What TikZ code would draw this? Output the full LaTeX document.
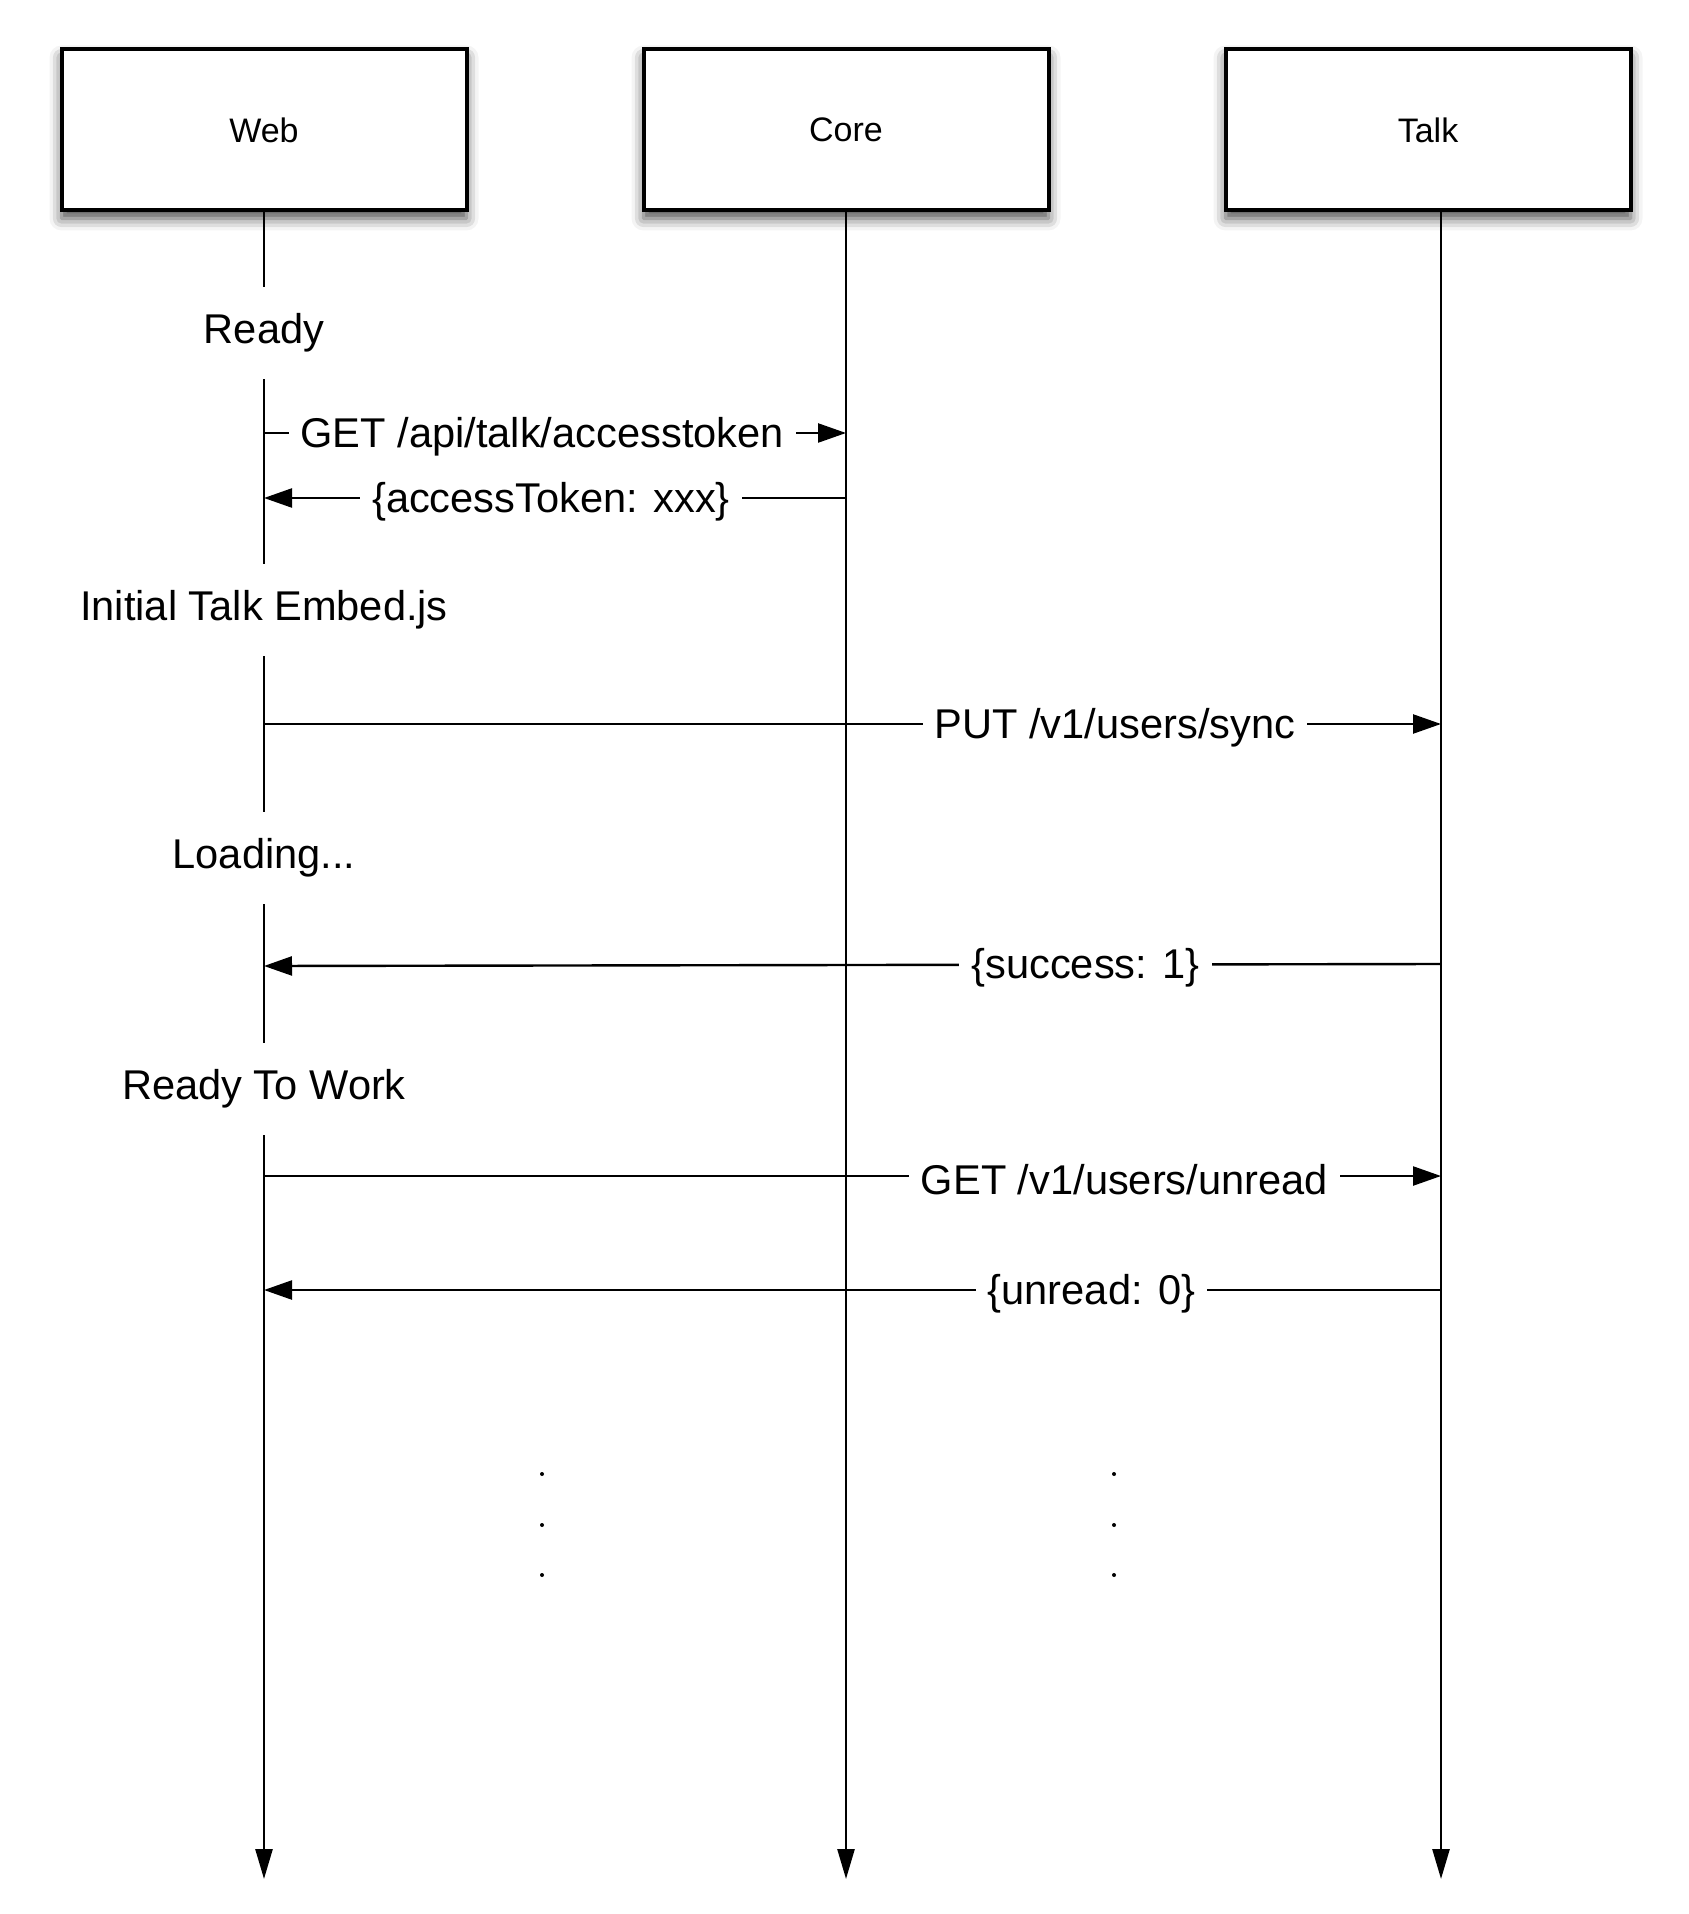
\documentclass[tikz,border=0pt]{standalone}
\usepackage{fontspec}
\setmainfont{Liberation Sans}
\usetikzlibrary{arrows.meta,shadows.blur}
\begin{document}
\begin{tikzpicture}[x=0.5pt,y=-0.5pt,
  actor/.style={draw,line width=2pt,fill=white,minimum width=202.5pt,minimum height=80.5pt,
    font=\fontsize{17}{20}\selectfont,
    blur shadow={shadow xshift=0pt,shadow yshift=-4pt,shadow blur radius=6pt,shadow opacity=70}},
  life/.style={line width=1.3pt,-{Triangle[length=15pt,width=8.5pt]}},
  msgline/.style={line width=1.2pt,-{Triangle[length=14pt,width=9.5pt]}},
  msg/.style={fill=white,inner xsep=6pt,inner ysep=2pt,yshift=-1.8pt,font=\fontsize{20.8}{25}\selectfont},
  statebox/.style={fill=white,inner xsep=4pt,minimum height=46pt,yshift=-1.5pt,font=\fontsize{20.8}{25}\selectfont},
  dotmark/.style={fill=black}
]
\useasboundingbox (0,0) rectangle (1689,1914);

% actors
\node[actor] (web)  at (264,130)  {Web};
\node[actor] (core) at (846,130)  {Core};
\node[actor] (talk) at (1428,130) {Talk};

% lifeline ends
\coordinate (webEnd)  at (264,1879);
\coordinate (coreEnd) at (846,1879);
\coordinate (talkTop) at (1441,211);
\coordinate (talkEnd) at (1441,1879);

\draw[life] (web.south) -- (webEnd);
\draw[life] (core.south) -- (coreEnd);
\draw[life] (talkTop) -- (talkEnd);

% states on the Web lifeline
\node[statebox] (s1) at (264,330)  {Ready};
\node[statebox] (s2) at (264,607)  {Initial Talk Embed.js};
\node[statebox] (s3) at (264,855)  {Loading...};
\node[statebox] (s4) at (264,1086) {Ready To Work};

% message end points
\coordinate (m1a) at (264,433);  \coordinate (m1b) at (846,433);
\coordinate (m2a) at (846,498);  \coordinate (m2b) at (264,498);
\coordinate (m3a) at (264,724);  \coordinate (m3b) at (1441,724);
\coordinate (m4a) at (1441,964); \coordinate (m4b) at (264,966);
\coordinate (m5a) at (264,1176); \coordinate (m5b) at (1441,1176);
\coordinate (m6a) at (1441,1290);\coordinate (m6b) at (264,1290);

\draw[msgline] (m1a) -- node[msg,pos=0.478] (l1) {GET /api/talk/accesstoken} (m1b);
\draw[msgline] (m2a) -- node[msg,pos=0.507] (l2) {\{accessToken: xxx\}} (m2b);
\draw[msgline] (m3a) -- node[msg,pos=0.723] (l3) {PUT /v1/users/sync} (m3b);
\draw[msgline] (m4a) -- node[msg,pos=0.302] (l4) {\{success: 1\}} (m4b);
\draw[msgline] (m5a) -- node[msg,pos=0.731] (l5) {GET /v1/users/unread} (m5b);
\draw[msgline] (m6a) -- node[msg,pos=0.297] (l6) {\{unread: 0\}} (m6b);

% continuation dots
\foreach \yy in {1474,1525,1575}{
  \fill[dotmark] (542,\yy) circle[radius=1pt];
  \fill[dotmark] (1114,\yy) circle[radius=1pt];
}
\end{tikzpicture}
\end{document}
